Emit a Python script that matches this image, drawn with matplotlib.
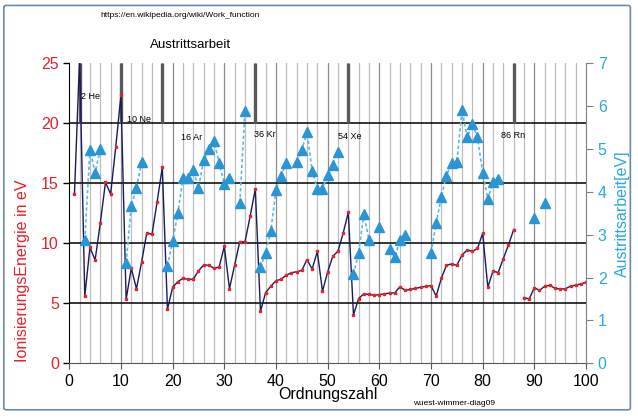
import numpy as np
import matplotlib
matplotlib.use("Agg")
import matplotlib.pyplot as plt
from matplotlib.patches import FancyBboxPatch

plt.rcParams['font.family'] = ['Liberation Sans', 'DejaVu Sans']

nan = np.nan

# Ordnungszahl 1..100
z = np.arange(1, 101)

# Ionisierungsenergie (eV)
ion_energy = [
    14.10, 25.50, 5.59, 9.66, 8.61, 11.68, 15.07, 14.12, 18.06, 22.36,
    5.33, 7.93, 6.21, 8.45, 10.88, 10.74, 13.45, 16.34, 4.50, 6.34,
    6.80, 7.08, 7.00, 7.02, 7.70, 8.19, 8.17, 7.92, 8.02, 9.74,
    6.22, 8.19, 10.15, 10.11, 12.25, 14.52, 4.33, 5.90, 6.42, 6.88,
    7.01, 7.35, 7.55, 7.63, 7.74, 8.65, 7.86, 9.32, 6.00, 7.61,
    8.93, 9.34, 10.84, 12.58, 4.03, 5.40, 5.79, 5.74, 5.67, 5.73,
    5.79, 5.85, 5.88, 6.38, 6.08, 6.16, 6.24, 6.34, 6.41, 6.48,
    5.60, 7.08, 8.18, 8.28, 8.17, 9.02, 9.44, 9.33, 9.57, 10.83,
    6.34, 7.69, 7.56, 8.73, 9.86, 11.15, nan, 5.48, 5.36, 6.30,
    6.08, 6.42, 6.50, 6.25, 6.19, 6.21, 6.43, 6.51, 6.62, 6.74,
]

# Austrittsarbeit (eV), gaps where no value
work_function = [
    nan, nan, 2.88, 4.98, 4.45, 4.99, nan, nan, nan, nan,
    2.35, 3.67, 4.10, 4.69, nan, nan, nan, nan, 2.27, 2.85,
    3.50, 4.32, 4.32, 4.50, 4.10, 4.74, 4.99, 5.19, 4.68, 4.18,
    4.32, nan, 3.74, 5.89, nan, nan, 2.24, 2.58, 3.09, 4.04,
    4.38, 4.68, nan, 4.70, 4.98, 5.40, 4.49, 4.07, 4.07, 4.39,
    4.63, 4.93, nan, nan, 2.08, 2.58, 3.48, 2.88, nan, 3.17,
    nan, 2.67, 2.47, 2.88, 2.99, nan, nan, nan, nan, 2.58,
    3.27, 3.89, 4.38, 4.67, 4.69, 5.91, 5.27, 5.58, 5.27, 4.45,
    3.83, 4.22, 4.30, nan, nan, nan, nan, nan, nan, 3.38,
    nan, 3.73, nan, nan, nan, nan, nan, nan, nan, nan,
]

noble_z = [2, 10, 18, 36, 54, 86]
noble_labels = ["2 He", "10 Ne", "16 Ar", "36 Kr", "54 Xe", "86 Rn"]
noble_label_pos = [(2.3, 22.2), (11.1, 20.3), (21.7, 18.8), (35.8, 19.1), (52.1, 18.9), (83.5, 19.0)]

red = '#e8202a'
blue = '#29a8e0'

fig = plt.figure(figsize=(6.38, 4.19), dpi=100)
ax = fig.add_axes([0.1086, 0.1329, 0.8099, 0.7160])

# outer frame
fig.patches.append(FancyBboxPatch((0.006, 0.022), 0.982, 0.965, boxstyle='round,pad=0,rounding_size=0.004',
                                  transform=fig.transFigure, fill=False, edgecolor='#6a8aa8', linewidth=1.2))

ax.set_xlim(0, 100)
ax.set_ylim(0, 25)

# vertical grid
for xv in range(2, 100, 2):
    ax.axvline(xv, color='#8c8c8c' if xv % 10 == 0 else '#bdbdbd', linewidth=0.9, zorder=0)
# horizontal grid
for yv in [5, 10, 15, 20]:
    ax.axhline(yv, color='black', linewidth=1.1, zorder=0.5)

# noble gas markers
for zn in noble_z:
    ax.plot([zn, zn], [20, 25], color='#5a5a5a', linewidth=2.4, zorder=1, solid_capstyle='butt')
for lab, (lx, ly) in zip(noble_labels, noble_label_pos):
    ax.text(lx, ly, lab, fontsize=6.5, color='black', ha='left', va='center', zorder=5)

ax.plot(z, ion_energy, color='#1a1a5e', linewidth=1.0, zorder=3,
        marker='s', markersize=2.0, markerfacecolor=red, markeredgecolor=red)

ax.set_xticks(range(0, 101, 10))
ax.set_yticks(range(0, 26, 5))
ax.tick_params(axis='y', colors=red, labelsize=11.5, length=4, width=1, direction='out')
ax.tick_params(axis='y', which='both', color='black')
ax.tick_params(axis='x', labelsize=11.5, length=4, color='#555555', labelcolor='black')
ax.set_xlabel('Ordnungszahl', fontsize=11.5, labelpad=-1)
ax.set_ylabel('IonisierungsEnergie in eV', fontsize=11.5, color=red)
ax.yaxis.set_label_coords(-0.076, 0.31)

ax.spines['top'].set_visible(False)
ax.spines['left'].set_color('black')
ax.spines['bottom'].set_color('#555555')
ax.spines['right'].set_visible(False)

ax2 = ax.twinx()
ax2.set_ylim(0, 7)
ax2.plot(z, work_function, color='#5bb8e8', linewidth=1.2, linestyle=(0, (2, 1.5)), zorder=3)
ax2.plot(z, work_function, linestyle='none', marker='^', markersize=7.5,
         markerfacecolor='#2a95d5', markeredgecolor='#2a95d5', zorder=4)
ax2.set_yticks(range(0, 8))
ax2.tick_params(axis='y', colors='#808080', labelcolor=blue, labelsize=11.5, length=5)
ax2.set_ylabel('Austrittsarbeit[eV]', fontsize=11.5, color=blue)
ax2.yaxis.set_label_coords(1.056, 0.5)
ax2.spines['right'].set_color('#808080')
ax2.spines['top'].set_visible(False)
ax2.spines['left'].set_visible(False)
ax2.spines['bottom'].set_visible(False)

fig.text(0.282, 0.962, 'https://en.wikipedia.org/wiki/Work_function', fontsize=6, ha='center', va='center')
fig.text(0.298, 0.892, 'Austrittsarbeit', fontsize=9.5, ha='center', va='center')
fig.text(0.712, 0.038, 'wuest-wimmer-diag09', fontsize=6, ha='center', va='center')

fig.savefig('out.png', dpi=100)
